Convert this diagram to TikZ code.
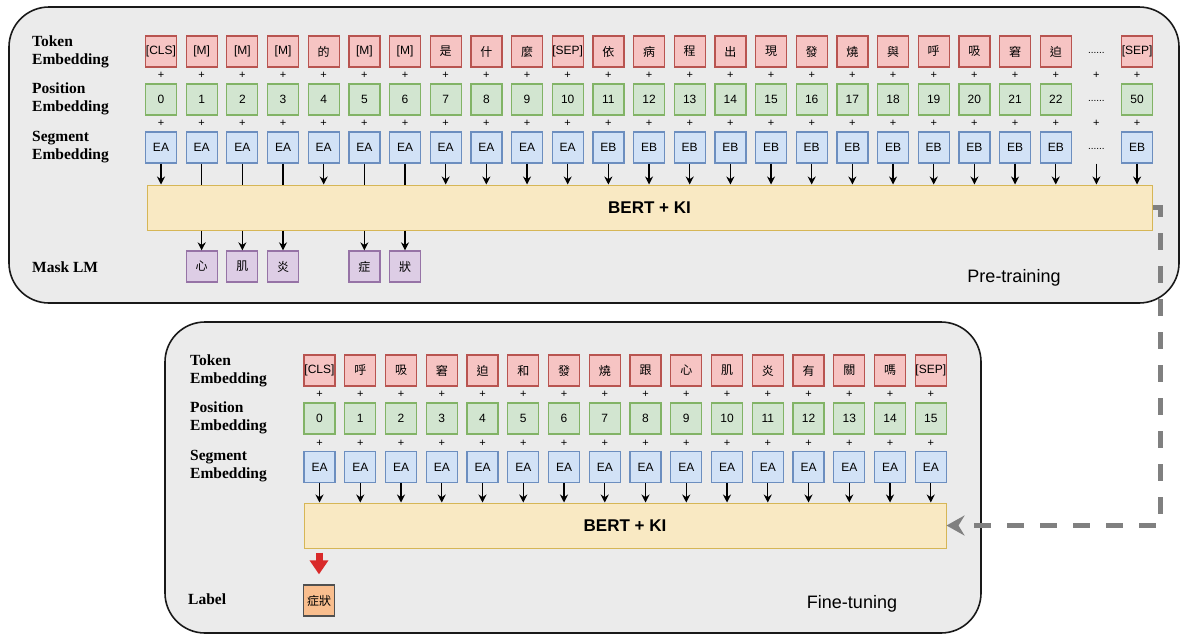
\documentclass[tikz,border=0pt]{standalone}
\usepackage{fontspec}
\setmainfont{Liberation Sans}
\newfontfamily\lblfont{Liberation Serif}
\newfontfamily\cjk{Noto Sans CJK TC}
\usetikzlibrary{arrows.meta}

\definecolor{panelbg}{HTML}{EBEBEB}
\definecolor{tokfill}{HTML}{F6C4C3}
\definecolor{tokline}{HTML}{B85450}
\definecolor{posfill}{HTML}{D2E5D0}
\definecolor{posline}{HTML}{82B366}
\definecolor{segfill}{HTML}{D2E2F6}
\definecolor{segline}{HTML}{6C8EBF}
\definecolor{bertfill}{HTML}{F9E9C3}
\definecolor{bertline}{HTML}{D6B656}
\definecolor{maskfill}{HTML}{DDCDE5}
\definecolor{maskline}{HTML}{9673A6}
\definecolor{labfill}{HTML}{F9BE8E}
\definecolor{labline}{HTML}{505050}
\definecolor{redarrow}{HTML}{D92A2A}
\definecolor{flowgray}{HTML}{808080}

\tikzset{
  panel/.style={draw=black!90, line width=1.6pt, fill=panelbg, rounded corners=40pt},
  emb/.style={draw, line width=1.3pt, minimum width=31pt, minimum height=31pt,
    inner sep=0pt, font=\fontsize{12}{12}\selectfont},
  tok/.style={emb, fill=tokfill, draw=tokline},
  posbox/.style={emb, fill=posfill, draw=posline},
  seg/.style={emb, fill=segfill, draw=segline},
  maskbox/.style={emb, fill=maskfill, draw=maskline},
  labbox/.style={emb, fill=labfill, draw=labline},
  bert/.style={draw=bertline, fill=bertfill, line width=1pt, minimum height=45pt,
    inner sep=0pt, font=\fontsize{17}{17}\selectfont\bfseries},
  rowlbl/.style={anchor=west, align=left, inner sep=0pt,
    font=\lblfont\bfseries\fontsize{15.5}{18}\selectfont},
  plus/.style={inner sep=0pt, font=\fontsize{11}{11}\selectfont},
  dots/.style={inner sep=0pt, font=\fontsize{10}{10}\selectfont},
  stagelbl/.style={inner sep=0pt, font=\fontsize{18}{18}\selectfont},
  arr/.style={line width=1.4pt, -{Stealth[length=8pt, width=8pt]}},
  plain/.style={line width=1.4pt},
  bigarrow/.style={draw=redarrow, line width=7pt,
    -{Triangle[length=14pt, width=18pt]}, shorten <=4pt, shorten >=10pt},
  transfer/.style={draw=flowgray, line width=5pt, dash pattern=on 17pt off 16pt,
    -{Stealth[length=18pt, width=20pt, inset=6pt]}}
}

\begin{document}
\begin{tikzpicture}[x=1pt, y=-1pt]
\useasboundingbox (0,0) rectangle (1180,635);

% ---------------- pre-training panel ----------------
\draw[panel] (9,7) rectangle (1179,303);

\node[rowlbl] (lblTokA) at (32,52) {Token\\Embedding};
\node[rowlbl] (lblPosA) at (32,99) {Position\\Embedding};
\node[rowlbl] (lblSegA) at (32,147) {Segment\\Embedding};
\node[rowlbl] (lblMask) at (32,267) {Mask LM};

\def\xa#1{161+40.67*#1}

\foreach \t [count=\i from 0] in {{[CLS]},{[M]},{[M]},{[M]},{\cjk 的},{[M]},{[M]},
  {\cjk 是},{\cjk 什},{\cjk 麼},{[SEP]},{\cjk 依},{\cjk 病},{\cjk 程},{\cjk 出},
  {\cjk 現},{\cjk 發},{\cjk 燒},{\cjk 與},{\cjk 呼},{\cjk 吸},{\cjk 窘},{\cjk 迫}}
  \node[tok] (ta\i) at ({\xa{\i}},51.5) {\t};
\node[dots] (ta23) at ({\xa{23}},52.5) {......};
\node[tok] (ta24) at ({\xa{24}},51.5) {[SEP]};

\foreach \i in {0,...,22}
  \node[posbox] (pa\i) at ({\xa{\i}},99.5) {\i};
\node[dots] (pa23) at ({\xa{23}},100.5) {......};
\node[posbox] (pa24) at ({\xa{24}},99.5) {50};

\foreach \i in {0,...,22}
  \node[seg] (sa\i) at ({\xa{\i}},147.5) {\ifnum\i<11 EA\else EB\fi};
\node[dots] (sa23) at ({\xa{23}},148.5) {......};
\node[seg] (sa24) at ({\xa{24}},147.5) {EB};

\foreach \i in {0,...,24} {
  \node[plus] (plA\i) at ({\xa{\i}},75.5) {+};
  \node[plus] (plB\i) at ({\xa{\i}},123.5) {+};
}

\node[bert, minimum width=1005pt] (bertA) at (649.5,207.5) {BERT + KI};

\foreach \i in {0,4,7,8,9,10,11,12,13,14,15,16,17,18,19,20,21,22,24}
  \draw[arr] (sa\i) -- (sa\i |- bertA.north);
\draw[arr] (sa23 |- sa0.south) -- (sa23 |- bertA.north);

\foreach \i/\ch in {1/心,2/肌,3/炎,5/症,6/狀} {
  \node[maskbox] (ma\i) at ({\xa{\i}},266.5) {\cjk \ch};
  \draw[plain] (sa\i) -- (sa\i |- bertA.north);
  \draw[arr] (sa\i |- bertA.south) -- (ma\i);
}

\node[stagelbl] (preLbl) at (1014,278) {Pre-training};

% ---------------- fine-tuning panel ----------------
\draw[panel] (165,322) rectangle (981,633);

\node[rowlbl] (lblTokB) at (190,371) {Token\\Embedding};
\node[rowlbl] (lblPosB) at (190,418) {Position\\Embedding};
\node[rowlbl] (lblSegB) at (190,466) {Segment\\Embedding};
\node[rowlbl] (lblLab) at (188,599) {Label};

\def\xb#1{319.5+40.75*#1}

\foreach \t [count=\i from 0] in {{[CLS]},{\cjk 呼},{\cjk 吸},{\cjk 窘},{\cjk 迫},
  {\cjk 和},{\cjk 發},{\cjk 燒},{\cjk 跟},{\cjk 心},{\cjk 肌},{\cjk 炎},{\cjk 有},
  {\cjk 關},{\cjk 嗎},{[SEP]}}
  \node[tok] (tb\i) at ({\xb{\i}},370.5) {\t};

\foreach \i in {0,...,15} {
  \node[posbox] (pb\i) at ({\xb{\i}},418.5) {\i};
  \node[seg] (sb\i) at ({\xb{\i}},467) {EA};
  \node[plus] (plC\i) at ({\xb{\i}},394.5) {+};
  \node[plus] (plD\i) at ({\xb{\i}},443) {+};
}

\node[bert, minimum width=642pt] (bertB) at (625,525.5) {BERT + KI};

\foreach \i in {0,...,15}
  \draw[arr] (sb\i) -- (sb\i |- bertB.north);

\node[labbox] (lab) at (319,600.5) {\cjk 症狀};
\draw[bigarrow] (bertB.south -| lab) -- (lab.north);

\node[stagelbl] (ftLbl) at (852,604) {Fine-tuning};

% ---------------- transfer from pre-training to fine-tuning ----------------
\coordinate (turn) at (1160,207.5);
\draw[transfer] (bertA.east) -- (turn) |- (bertB.east);

\end{tikzpicture}
\end{document}
